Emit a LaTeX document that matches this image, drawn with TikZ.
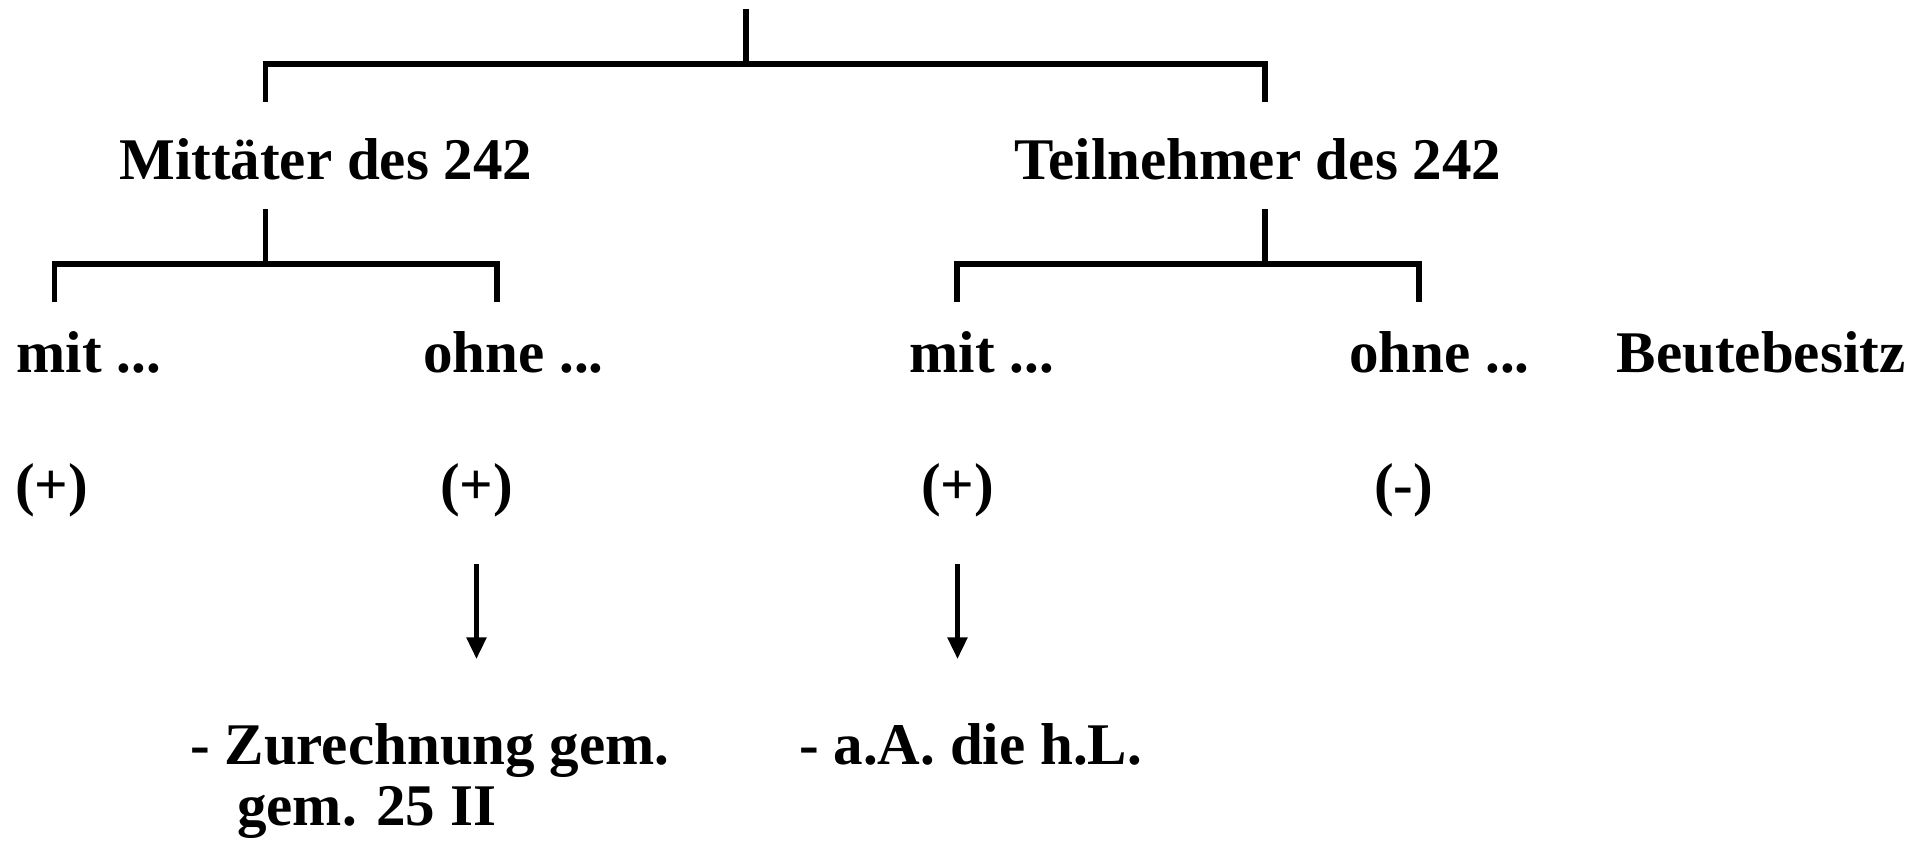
\documentclass[tikz,border=0pt]{standalone}
\usepackage{fontspec}
\setmainfont{Liberation Serif}
\usetikzlibrary{arrows.meta}
\begin{document}
\begin{tikzpicture}[txt/.style={font=\bfseries\fontsize{16.8pt}{18.8pt}\selectfont, inner sep=0pt, anchor=base west},
        bar/.style={line width=1.6pt},
        arr/.style={line width=1.6pt, -{Triangle[length=0.22cm, width=0.19cm]}}]
        \useasboundingbox (0,0) rectangle (19.23,-8.41);

        \node[style=txt] (mt) at (1.186,-1.80) {Mittäter des 242};
        \node[style=txt] (tn) at (10.14,-1.80) {Teilnehmer des 242};

        \node[style=txt] (m1) at (0.16,-3.73)  {mit ...};
        \node[style=txt] (o1) at (4.225,-3.73) {ohne ...};
        \node[style=txt] (m2) at (9.09,-3.73)  {mit ...};
        \node[style=txt] (o2) at (13.485,-3.73) {ohne ...};
        \node[style=txt] (bb) at (16.16,-3.73) {Beutebesitz};

        \node[style=txt] (p1) at (0.143,-5.05) {(+)};
        \node[style=txt] (p2) at (4.393,-5.05) {(+)};
        \node[style=txt] (p3) at (9.203,-5.05) {(+)};
        \node[style=txt] (p4) at (13.733,-5.05) {(-)};

        \node[style=txt] (zur) at (1.895,-7.64) {- Zurechnung gem.};
        \node[style=txt] (zur2) at (2.364,-8.26) {gem. 25 II};
        \node[style=txt] (aA) at (7.985,-7.64) {- a.A. die h.L.};

        % upper bracket
        \coordinate (top) at (7.46,-0.09);
        \coordinate (j0) at (7.46,-0.64);
        \coordinate (mtup) at (2.655,-1.02);
        \coordinate (tnup) at (12.65,-1.02);
        \draw[bar] (top) -- (j0);
        \draw[bar] (mtup) |- (j0) -| (tnup);

        % lower brackets
        \coordinate (mtdn) at (2.655,-2.09);
        \coordinate (j1) at (2.655,-2.64);
        \coordinate (m1up) at (0.545,-3.02);
        \coordinate (o1up) at (4.97,-3.02);
        \draw[bar] (mtdn) -- (j1);
        \draw[bar] (m1up) |- (j1) -| (o1up);

        \coordinate (tndn) at (12.65,-2.09);
        \coordinate (j2) at (12.65,-2.64);
        \coordinate (m2up) at (9.57,-3.02);
        \coordinate (o2up) at (14.19,-3.02);
        \draw[bar] (tndn) -- (j2);
        \draw[bar] (m2up) |- (j2) -| (o2up);

        % arrows
        \draw[arr] ([yshift=-0.46cm]p2.south) -- ++(0,-0.95);
        \draw[arr] ([yshift=-0.46cm]p3.south) -- ++(0,-0.95);
    \end{tikzpicture}
\end{document}
